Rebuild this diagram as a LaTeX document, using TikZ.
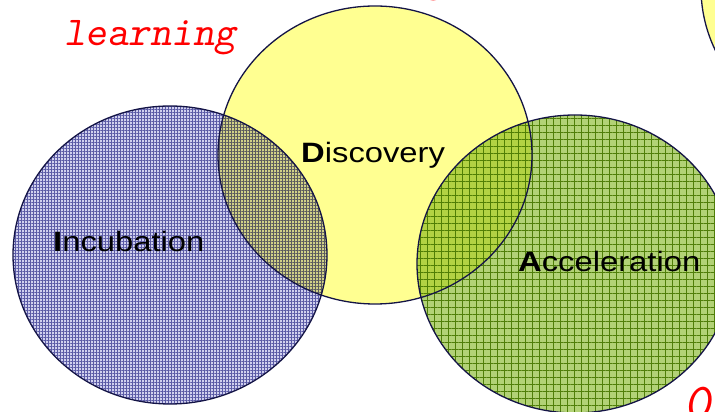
\documentclass[tikz,border=0pt]{standalone}
\usepackage{fontspec}
\setmainfont{Liberation Sans}
\newfontfamily\labelfont[FakeStretch=1.17]{Liberation Sans}
\usetikzlibrary{patterns.meta}
\definecolor{mnavy}{RGB}{20, 20, 70}
\definecolor{mbluebase}{RGB}{208, 208, 238}
\definecolor{mblueline}{RGB}{112, 112, 178}
\definecolor{myellowbase}{RGB}{255, 255, 145}
\definecolor{mgreenbase}{RGB}{178, 210, 118}
\definecolor{mgreenline}{RGB}{115, 155, 20}
\tikzset{ring/.style = {draw = mnavy, line width = 1.3}}
\tikzset{bluedisc/.style = {fill = mbluebase, blend mode = multiply,
                            postaction = {pattern = {Hatch[distance = 3pt, line width = 0.6pt]},
                                          pattern color = mblueline, blend mode = multiply}}}
\tikzset{yellowdisc/.style = {fill = myellowbase, blend mode = multiply}}
\tikzset{greendisc/.style = {fill = mgreenbase, blend mode = multiply,
                             postaction = {pattern = {Hatch[distance = 7pt, line width = 0.6pt]},
                                           pattern color = mgreenline, blend mode = multiply}}}
\tikzset{phase/.style = {font = \labelfont\fontsize{28}{28}\selectfont, inner sep = 0}}
\tikzset{note/.style = {text = red, font = \ttfamily\slshape\fontsize{41}{41}\selectfont, inner sep = 0}}

\begin{document}
\begin{tikzpicture}[x = 1pt, y = 1pt]
  \useasboundingbox (0, 0) rectangle (715, 412);
  \clip (0, 0) rectangle (715, 412);

  \coordinate (inc) at (170, 157);
  \coordinate (dis) at (375, 257);
  \coordinate (acc) at (575, 148);
  \coordinate (far) at (858, 424);

  \path [bluedisc] (inc) ellipse [x radius = 157pt, y radius = 149pt];
  \path [yellowdisc] (dis) ellipse [x radius = 157pt, y radius = 149pt];
  \path [greendisc] (acc) ellipse [x radius = 158pt, y radius = 149pt];
  \path [yellowdisc] (far) ellipse [x radius = 157pt, y radius = 149pt];

  \draw [ring] (inc) ellipse [x radius = 157pt, y radius = 149pt];
  \draw [ring] (dis) ellipse [x radius = 157pt, y radius = 149pt];
  \draw [ring] (acc) ellipse [x radius = 158pt, y radius = 149pt];
  \draw [ring] (far) ellipse [x radius = 157pt, y radius = 149pt];

  \node [phase, anchor = base west] (incubation) at (53, 160) {\textbf{I}ncubation};
  \node [phase, anchor = base west] (discovery) at (301, 249) {\textbf{D}iscovery};
  \node [phase, anchor = base west] (acceleration) at (518, 140) {\textbf{A}cceleration};

  \node [note, anchor = base west] (learning) at (64, 366) {learning};
  \node [note, anchor = base west] (topnote) at (424, 420) {g};
  \node [note, anchor = base west, font = \ttfamily\slshape\fontsize{52}{52}\selectfont] (zero) at (684, -8) {0};
\end{tikzpicture}
\end{document}
